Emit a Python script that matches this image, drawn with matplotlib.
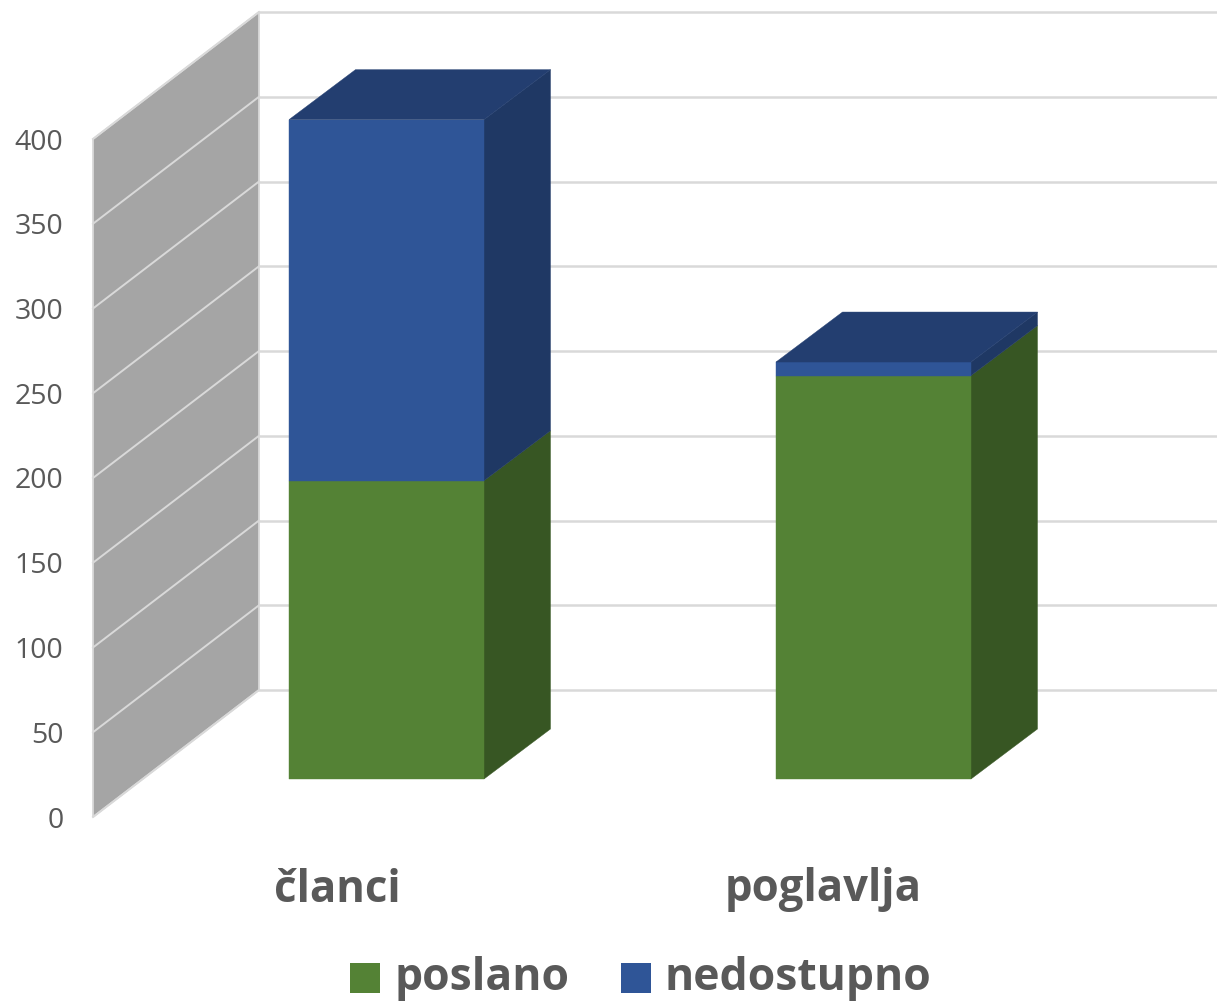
"""Stacked 3D-look column chart, drawn with polygons on a flat pixel-sized axes."""
import matplotlib
matplotlib.use("Agg")
import matplotlib.pyplot as plt
from matplotlib.patches import Polygon, Rectangle

plt.rcParams["font.family"] = ["Open Sans", "DejaVu Sans"]

categories = ["članci", "poglavlja"]
poslano = [176, 238]
nedostupno = [213, 8]
ticks = [0, 50, 100, 150, 200, 250, 300, 350, 400]

GREEN = "#548235"
GREEN_SIDE = "#375623"
BLUE = "#2f5597"
BLUE_TOP = "#233e70"
BLUE_SIDE = "#1f3864"
WALL = "#a5a5a5"
GRID = "#d9d9d9"
TEXT = "#595959"

# chart geometry, in picture pixels
W, H = 1217, 1002
PX_PER_UNIT = 678 / 400
WALL_X, WALL_Y0 = 93, 817
WALL_DX, WALL_DY = 166, -127
BAR_LEFT = [289, 776]
BAR_W = 195
BAR_Y0 = 779
BAR_DX, BAR_DY = 66.5, -50


def wall_y(v):
    return WALL_Y0 - v * PX_PER_UNIT


def bar_y(v):
    return BAR_Y0 - v * PX_PER_UNIT


def draw_segment(ax, left, v0, v1, front, side):
    right = left + BAR_W
    y0, y1 = bar_y(v0), bar_y(v1)
    ax.add_patch(Polygon([(right, y0), (right + BAR_DX, y0 + BAR_DY),
                          (right + BAR_DX, y1 + BAR_DY), (right, y1)],
                         facecolor=side, edgecolor=side, lw=0.3, zorder=3))
    ax.add_patch(Rectangle((left, y1), BAR_W, y0 - y1,
                           facecolor=front, edgecolor=front, lw=0.3, zorder=4))


fig = plt.figure(figsize=(W / 100, H / 100), dpi=100)
ax = fig.add_axes([0, 0, 1, 1])
ax.set_xlim(0, W)
ax.set_ylim(H, 0)
ax.axis("off")

# side wall
top, bottom = ticks[-1], ticks[0]
ax.add_patch(Polygon([(WALL_X, wall_y(bottom)),
                      (WALL_X + WALL_DX, wall_y(bottom) + WALL_DY),
                      (WALL_X + WALL_DX, wall_y(top) + WALL_DY),
                      (WALL_X, wall_y(top))],
                     facecolor=WALL, edgecolor=GRID, lw=1.3, zorder=1))

# gridlines, wall part and back part, plus tick labels
for t in ticks:
    y = wall_y(t)
    ax.plot([WALL_X, WALL_X + WALL_DX], [y, y + WALL_DY], color=GRID, lw=1.4, zorder=2)
    ax.plot([WALL_X + WALL_DX, W], [y + WALL_DY, y + WALL_DY], color=GRID, lw=1.8, zorder=2)
    ax.text(63.5, y + 3.5, str(t), ha="right", va="center", fontsize=20.5, color=TEXT)

# bars
for i, left in enumerate(BAR_LEFT):
    total = poslano[i] + nedostupno[i]
    draw_segment(ax, left, 0, poslano[i], GREEN, GREEN_SIDE)
    draw_segment(ax, left, poslano[i], total, BLUE, BLUE_SIDE)
    yt = bar_y(total)
    ax.add_patch(Polygon([(left, yt), (left + BAR_W, yt),
                          (left + BAR_W + BAR_DX, yt + BAR_DY), (left + BAR_DX, yt + BAR_DY)],
                         facecolor=BLUE_TOP, edgecolor=BLUE_TOP, lw=0.3, zorder=5))

# category labels
for name, cx in zip(categories, [337, 823]):
    ax.text(cx, 890, name, ha="center", va="center", fontsize=31.5,
            fontweight="bold", color=TEXT)

# legend, baseline kept high enough that the descenders stay inside the picture
for x, col, name in [(350, GREEN, "poslano"), (621, BLUE, "nedostupno")]:
    ax.add_patch(Rectangle((x, 963), 30, 30, facecolor=col, edgecolor="none"))
    ax.text(x + 44, 990, name, ha="left", va="baseline", fontsize=32,
            fontweight="bold", color=TEXT)

fig.savefig("out.png", dpi=100)
